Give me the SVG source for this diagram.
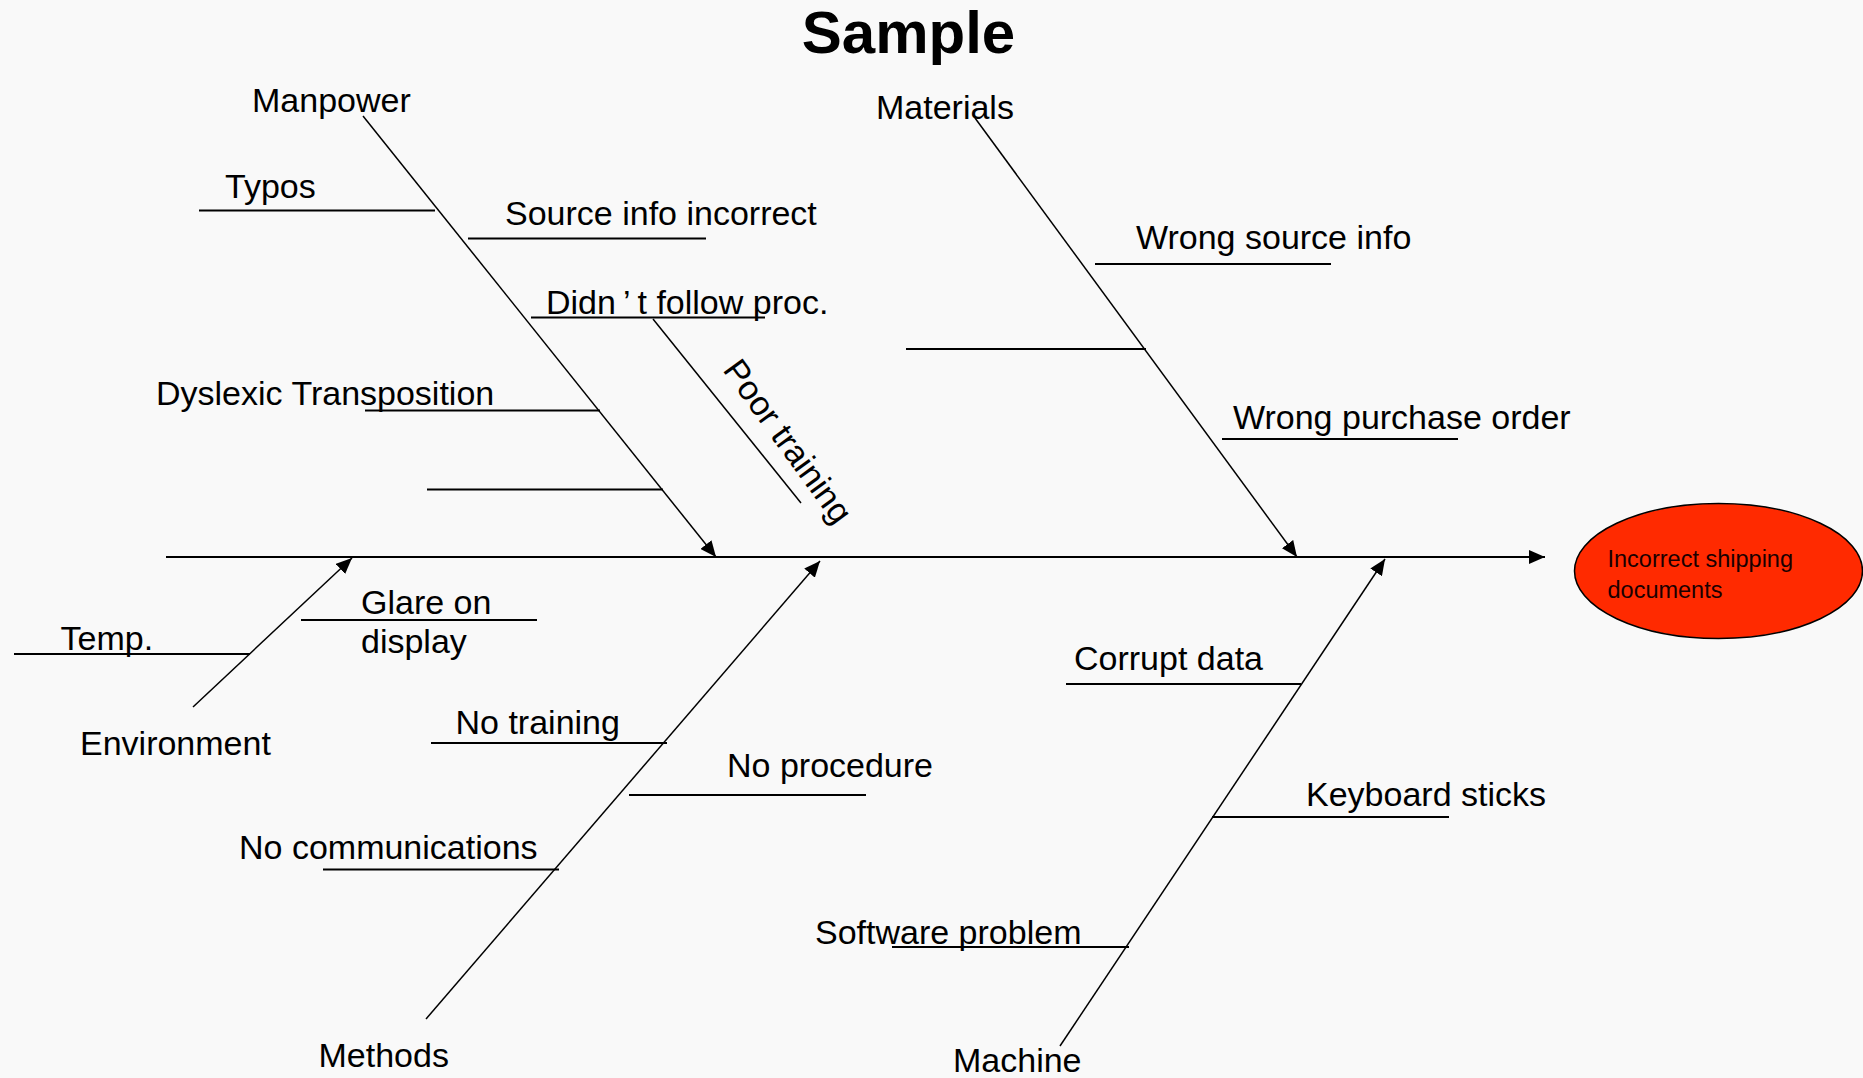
<svg xmlns="http://www.w3.org/2000/svg" width="1863" height="1078" viewBox="0 0 1863 1078">
  <defs>
    <marker id="head" markerUnits="userSpaceOnUse" markerWidth="16" markerHeight="14" refX="16" refY="7" orient="auto">
      <path d="M0,0 L16,7 L0,14 z" fill="#000"/>
    </marker>
    <style>
      text { font-family: "Liberation Sans", Arial, sans-serif; fill: #000; }
      .lbl { font-size: 34px; }
      .title { font-size: 60px; font-weight: bold; }
      .effect-txt { font-size: 23.5px; fill: #1a0000; }
      .bone { stroke: #000; stroke-width: 1.5; fill: none; }
      .cause { stroke: #000; stroke-width: 2; fill: none; }
      .spine { stroke: #000; stroke-width: 2; fill: none; }
    </style>
  </defs>

  <rect width="1863" height="1078" fill="#f9f9f9"/>

  <g id="title">
    <text class="title" x="908.5" y="53" text-anchor="middle">Sample</text>
  </g>

  <!-- spine, category bones and cause lines -->
  <g id="connectors">
    <line class="spine" x1="166" y1="557" x2="1545" y2="557" marker-end="url(#head)"/>

    <line class="bone" x1="363" y1="116" x2="716" y2="557" marker-end="url(#head)"/>
    <line class="bone" x1="975" y1="118" x2="1297" y2="557" marker-end="url(#head)"/>
    <line class="bone" x1="193" y1="707" x2="352" y2="558" marker-end="url(#head)"/>
    <line class="bone" x1="426" y1="1019" x2="820" y2="561" marker-end="url(#head)"/>
    <line class="bone" x1="1060" y1="1046" x2="1385" y2="559" marker-end="url(#head)"/>

    <!-- Manpower causes -->
    <line class="cause" x1="199" y1="210.5" x2="435" y2="210.5"/>
    <line class="cause" x1="468" y1="238.5" x2="706" y2="238.5"/>
    <line class="cause" x1="531" y1="317.5" x2="765" y2="317.5"/>
    <line class="bone" x1="653" y1="319" x2="801" y2="503"/>
    <line class="cause" x1="365" y1="410.5" x2="600" y2="410.5"/>
    <line class="cause" x1="427" y1="489.5" x2="663" y2="489.5"/>

    <!-- Materials causes -->
    <line class="cause" x1="1095" y1="264" x2="1331" y2="264"/>
    <line class="cause" x1="906" y1="349" x2="1146" y2="349"/>
    <line class="cause" x1="1222" y1="439" x2="1458" y2="439"/>

    <!-- Environment causes -->
    <line class="cause" x1="14" y1="654" x2="250" y2="654"/>
    <line class="cause" x1="301" y1="620" x2="537" y2="620"/>

    <!-- Methods causes -->
    <line class="cause" x1="431" y1="743" x2="667" y2="743"/>
    <line class="cause" x1="629" y1="795" x2="866" y2="795"/>
    <line class="cause" x1="323" y1="869.5" x2="559" y2="869.5"/>

    <!-- Machine causes -->
    <line class="cause" x1="1066" y1="684" x2="1301" y2="684"/>
    <line class="cause" x1="1212" y1="817" x2="1449" y2="817"/>
    <line class="cause" x1="892" y1="947" x2="1129" y2="947"/>
  </g>

  <g id="effect">
    <ellipse cx="1718.5" cy="571" rx="144" ry="67.5" fill="#ff2a00" stroke="#000" stroke-width="1.5"/>
    <text class="effect-txt" x="1607.5" y="567">Incorrect shipping</text>
    <text class="effect-txt" x="1607.5" y="598">documents</text>
  </g>

  <g id="manpower">
    <text class="lbl" x="252" y="112">Manpower</text>
    <text class="lbl" x="225" y="197.5">Typos</text>
    <text class="lbl" x="505" y="225">Source info incorrect</text>
    <text class="lbl" x="546" y="314">Didn<tspan dx="7">’</tspan><tspan dx="7">t follow proc.</tspan></text>
    <text class="lbl" transform="translate(722 370) rotate(54)">Poor training</text>
    <text class="lbl" x="156" y="405">Dyslexic Transposition</text>
  </g>

  <g id="materials">
    <text class="lbl" x="876" y="119">Materials</text>
    <text class="lbl" x="1136" y="249">Wrong source info</text>
    <text class="lbl" x="1233" y="429">Wrong purchase order</text>
  </g>

  <g id="environment">
    <text class="lbl" x="80" y="755">Environment</text>
    <text class="lbl" x="60.5" y="650">Temp.</text>
    <text class="lbl" x="361" y="614">Glare on</text>
    <text class="lbl" x="361" y="653">display</text>
  </g>

  <g id="methods">
    <text class="lbl" x="318.5" y="1067">Methods</text>
    <text class="lbl" x="455.5" y="734">No training</text>
    <text class="lbl" x="727" y="777">No procedure</text>
    <text class="lbl" x="239" y="859">No communications</text>
  </g>

  <g id="machine">
    <text class="lbl" x="953" y="1072">Machine</text>
    <text class="lbl" x="1074" y="670">Corrupt data</text>
    <text class="lbl" x="1306" y="806">Keyboard sticks</text>
    <text class="lbl" x="815" y="944">Software problem</text>
  </g>
</svg>
